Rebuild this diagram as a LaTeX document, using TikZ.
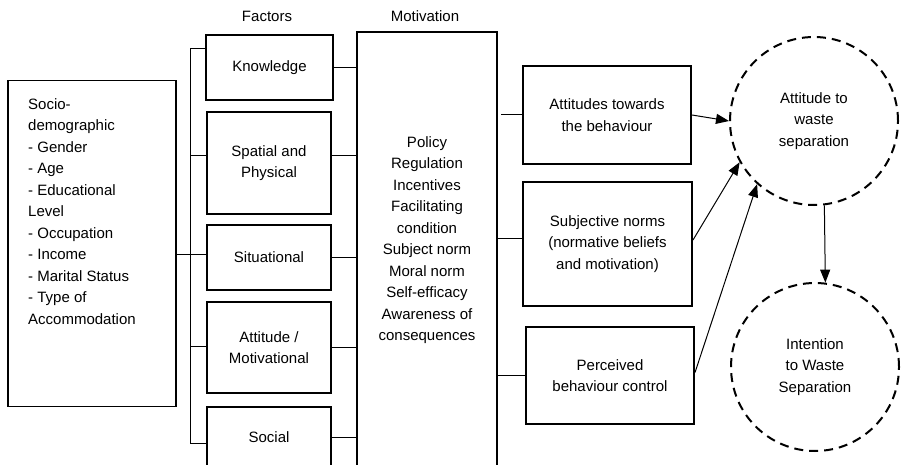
\documentclass[tikz,border=0pt]{standalone}
\usepackage{fontspec}
\setmainfont{Liberation Sans}
\usetikzlibrary{arrows.meta,calc}
\begin{document}
\begin{tikzpicture}[x=1pt,y=-1pt,
  every node/.style={font=\fontsize{15}{21.5}\selectfont, inner sep=0pt, align=center},
  fbox/.style={draw, line width=2.2pt, minimum width=124pt},
  rbox/.style={draw, line width=2pt, minimum width=168pt},
  conn/.style={line width=1pt},
  arr/.style={line width=1pt, -{Triangle[length=13pt,width=10pt]}},
  dcirc/.style={draw, circle, line width=2pt, dash pattern=on 9pt off 6pt, minimum size=168pt},
]
\clip (0,0) rectangle (904,465);

% labels
\node (flab) at (267,16) {Factors};
\node (mlab) at (425,16) {Motivation};

% socio-demographic box
\node[draw, line width=1.6pt, minimum width=168pt, minimum height=326pt] (soc) at (92,243.5) {};
\node[anchor=north west, align=left] (soctext) at (28,98) {Socio-\\demographic\\- Gender\\- Age\\- Educational\\Level\\- Occupation\\- Income\\- Marital Status\\- Type of\\Accommodation};

% factor boxes
\node[fbox, minimum width=127pt, minimum height=65pt] (know) at (269.5,67.5) {Knowledge};
\node[fbox, minimum height=102pt] (spat) at (269,163) {Spatial and\\Physical};
\node[fbox, minimum height=65pt] (situ) at (269,257.5) {Situational};
\node[fbox, minimum height=91pt] (atti) at (269,347.5) {Attitude /\\Motivational};
\node[fbox, minimum height=60pt] (soci) at (269,437) {Social};

% motivation box
\node[draw, line width=2pt, minimum width=140pt, minimum height=448pt] (mot) at (427,256) {};
\node (mottext) at (427,240) {Policy\\Regulation\\Incentives\\Facilitating\\condition\\Subject norm\\Moral norm\\Self-efficacy\\Awareness of\\consequences};

% bus
\coordinate (b1) at (190,49);
\coordinate (b2) at (190,156);
\coordinate (b3) at (190,254);
\coordinate (b4) at (190,346);
\coordinate (b5) at (190,443);
\draw[conn] (b1) -- (b5);
\draw[conn] (b1) -- (b1 -| know.west);
\draw[conn] (b2) -- (b2 -| spat.west);
\draw[conn] (soc.east |- b3) -- (b3 -| situ.west);
\draw[conn] (b4) -- (b4 -| atti.west);
\draw[conn] (b5) -- (b5 -| soci.west);

% factors to motivation
\draw[conn] (know.east) -- (know.east -| mot.west);
\draw[conn] (spat.east |- b2) -- (mot.west |- b2);
\draw[conn] (situ.east) -- (situ.east -| mot.west);
\draw[conn] (atti.east) -- (atti.east -| mot.west);
\draw[conn] (soci.east) -- (soci.east -| mot.west);

% right boxes
\node[rbox, minimum height=98pt] (att) at (607,115) {Attitudes towards\\the behaviour};
\node[rbox, minimum width=169pt, minimum height=124pt] (subj) at (607.5,244) {Subjective norms\\(normative beliefs\\and motivation)};
\node[rbox, minimum height=97pt] (perc) at (610,375.5) {Perceived\\behaviour control};

\draw[conn] ([xshift=3pt]mot.east |- att.west) -- (att.west);
\draw[conn] ([yshift=6pt]mot.east |- subj.west) -- ([yshift=6pt]subj.west);
\draw[conn] (mot.east |- perc.west) -- (perc.west);

% circles
\node[dcirc] (c1) at (814,121) {Attitude to\\waste\\separation};
\node[dcirc] (c2) at (815,367) {Intention\\to Waste\\Separation};

% arrows
\draw[arr] (att.east) -- (c1.west);
\draw[arr] ([yshift=4pt]subj.east) -- (c1.209);
\draw[arr] ([yshift=3pt]perc.east) -- (c1.228);
\draw[arr] (c1.277) -- (c2.83);
\end{tikzpicture}
\end{document}
